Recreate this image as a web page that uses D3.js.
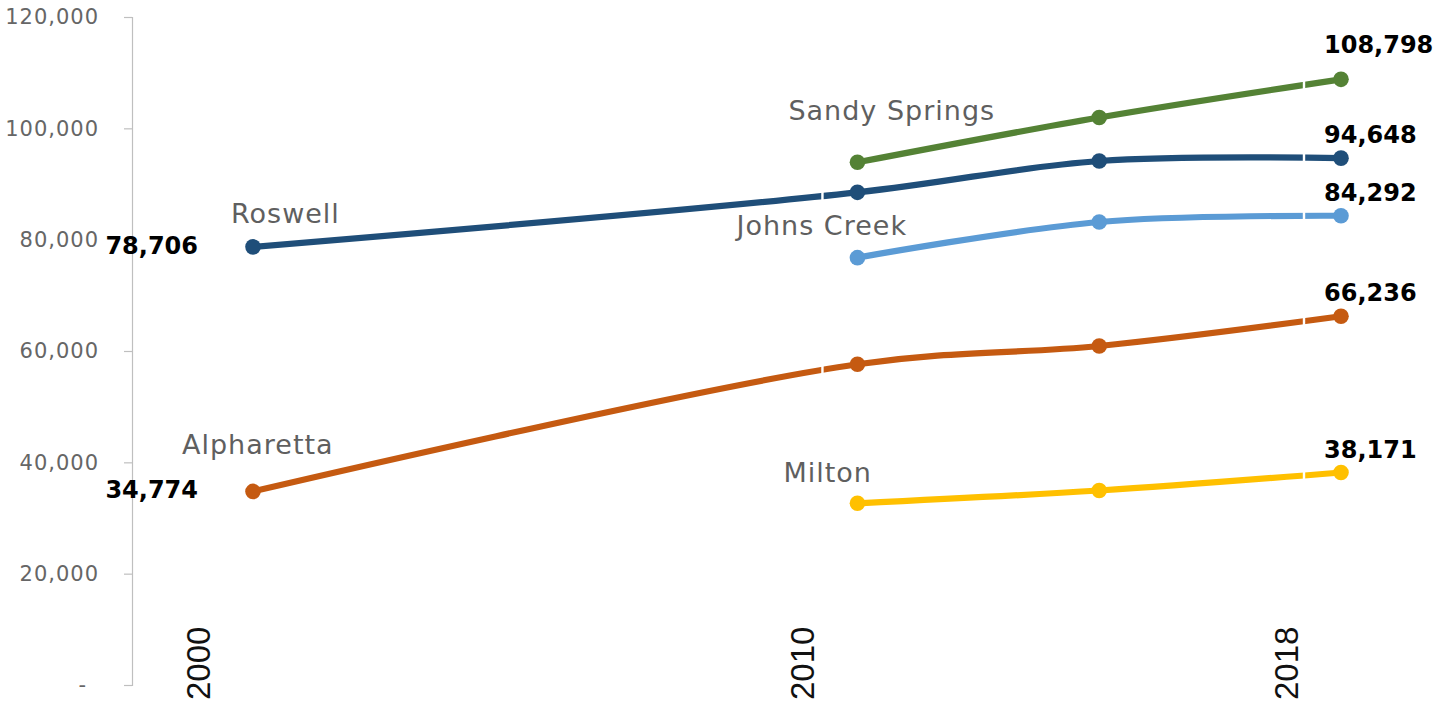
<!DOCTYPE html>
<html>
<head>
<meta charset="utf-8">
<script src="https://cdn.jsdelivr.net/npm/d3@7/dist/d3.min.js"></script>
<style>
  html, body { margin: 0; padding: 0; background: #fff; }
  svg { display: block; }
</style>
</head>
<body>
<svg id="chart" width="1433" height="707"></svg>
<script>
// Population of North Fulton cities, 2000–2018
const years = [2000, 2010, 2014, 2018];
const seriesNames = ["Sandy Springs", "Roswell", "Johns Creek", "Alpharetta", "Milton"];
const seriesColors = ["#548235", "#1F4E79", "#5B9BD5", "#C55A11", "#FFC000"];

const sandySprings = [null, 93900, 101950, 108798];
const roswell      = [78706, 88500, 94137, 94648];
const johnsCreek   = [null, 76770, 83180, 84292];
const alpharetta   = [34774, 57614, 60900, 66236];
const milton       = [null, 32640, 34942, 38171];

const yTicks = [0, 20000, 40000, 60000, 80000, 100000, 120000];
const xTickYears = [2000, 2010, 2018];

const seriesValues = [sandySprings, roswell, johnsCreek, alpharetta, milton];

// label nudges (pixels) for the series name, relative to the first point
const nameOffsets = [[-69, -42], [-22, -24], [-121, -23], [-71, -37], [-74, -21]];

const svg = d3.select("#chart");

const x = d3.scaleLinear().domain([2000, 2018]).range([253, 1341]);
const y = d3.scaleLinear().domain([0, 120000]).range([685, 17]);

// ---- y axis ----
const yAxis = d3.axisLeft(y)
  .tickValues(yTicks)
  .tickSize(8)
  .tickPadding(25)
  .tickFormat(d => d === 0 ? "-" : d3.format(",")(d));

const gy = svg.append("g")
  .attr("transform", "translate(132,0)")
  .call(yAxis);
gy.select(".domain").attr("stroke", "#BFBFBF").attr("stroke-width", 1.2);
gy.selectAll(".tick line").attr("stroke", "#BFBFBF").attr("stroke-width", 1.2);
gy.selectAll(".tick text")
  .attr("fill", "#666666")
  .style("font-family", "'DejaVu Sans', sans-serif")
  .style("font-size", "21px")
  .style("letter-spacing", "1px");
gy.selectAll(".tick text").filter(d => d === 0)
  .attr("x", -45);

// ---- x labels (rotated) ----
svg.append("g").selectAll("text")
  .data(xTickYears)
  .join("text")
  .attr("transform", d => `translate(${x(d) - 55},700) rotate(-90)`)
  .attr("dy", "0.36em")
  .attr("text-anchor", "start")
  .attr("fill", "#111")
  .style("font-family", "'Liberation Sans', Arial, sans-serif")
  .style("font-size", "33px")
  .text(d => d);

// ---- series data ----
const series = seriesNames.map((name, i) => ({
  name,
  color: seriesColors[i],
  nameOffset: nameOffsets[i],
  points: years.map((yr, j) => ({ year: yr, value: seriesValues[i][j] }))
                .filter(p => p.value !== null)
}));

// thin breaks in the lines just before the labelled points
const defs = svg.append("defs");
const mask = defs.append("mask").attr("id", "lineBreaks")
  .attr("maskUnits", "userSpaceOnUse")
  .attr("x", 0).attr("y", 0).attr("width", 1433).attr("height", 707);
mask.append("rect").attr("width", 1433).attr("height", 707).attr("fill", "#fff");
mask.selectAll("rect.brk")
  .data([[2010, -35], [2018, -37]])
  .join("rect")
  .attr("class", "brk")
  .attr("x", d => x(d[0]) + d[1] - 1.2)
  .attr("y", 0).attr("width", 2.4).attr("height", 707)
  .attr("fill", "#000");

const line = d3.line()
  .x(d => x(d.year))
  .y(d => y(d.value))
  .curve(d3.curveCatmullRom.alpha(0.5));

const gLines = svg.append("g");
gLines.selectAll("path")
  .data(series)
  .join("path")
  .attr("d", d => line(d.points))
  .attr("fill", "none")
  .attr("stroke", d => d.color)
  .attr("stroke-width", 6.2)
  .attr("stroke-linecap", "round")
  .attr("mask", "url(#lineBreaks)");

// markers
series.forEach(s => {
  svg.append("g").selectAll("circle")
    .data(s.points)
    .join("circle")
    .attr("cx", d => x(d.year))
    .attr("cy", d => y(d.value))
    .attr("r", 7.8)
    .attr("fill", s.color);
});

// series name labels
svg.append("g").selectAll("text")
  .data(series)
  .join("text")
  .attr("x", d => x(d.points[0].year) + d.nameOffset[0])
  .attr("y", d => y(d.points[0].value) + d.nameOffset[1])
  .attr("fill", "#5f5f5f")
  .style("font-family", "'DejaVu Sans', sans-serif")
  .style("font-size", "27px")
  .style("letter-spacing", "1px")
  .text(d => d.name);

// value labels: first point (when in 2000) and last point
const fmt = d3.format(",");
const valueLabels = [];
series.forEach(s => {
  const first = s.points[0];
  if (first.year === 2000) valueLabels.push({ p: first, side: "left", name: s.name });
  valueLabels.push({ p: s.points[s.points.length - 1], side: "right", name: s.name });
});

svg.append("g").selectAll("text")
  .data(valueLabels)
  .join("text")
  .attr("x", d => d.side === "left" ? x(d.p.year) - 55 : x(d.p.year) - 17)
  .attr("y", d => d.side === "left" ? y(d.p.value) + 7
                                     : y(d.p.value) - (d.name === "Sandy Springs" ? 26 : 15))
  .attr("text-anchor", d => d.side === "left" ? "end" : "start")
  .attr("fill", "#000")
  .style("font-family", "'DejaVu Sans', sans-serif")
  .style("font-weight", "bold")
  .style("font-size", "24px")
  .text(d => fmt(d.p.value));
</script>
</body>
</html>
